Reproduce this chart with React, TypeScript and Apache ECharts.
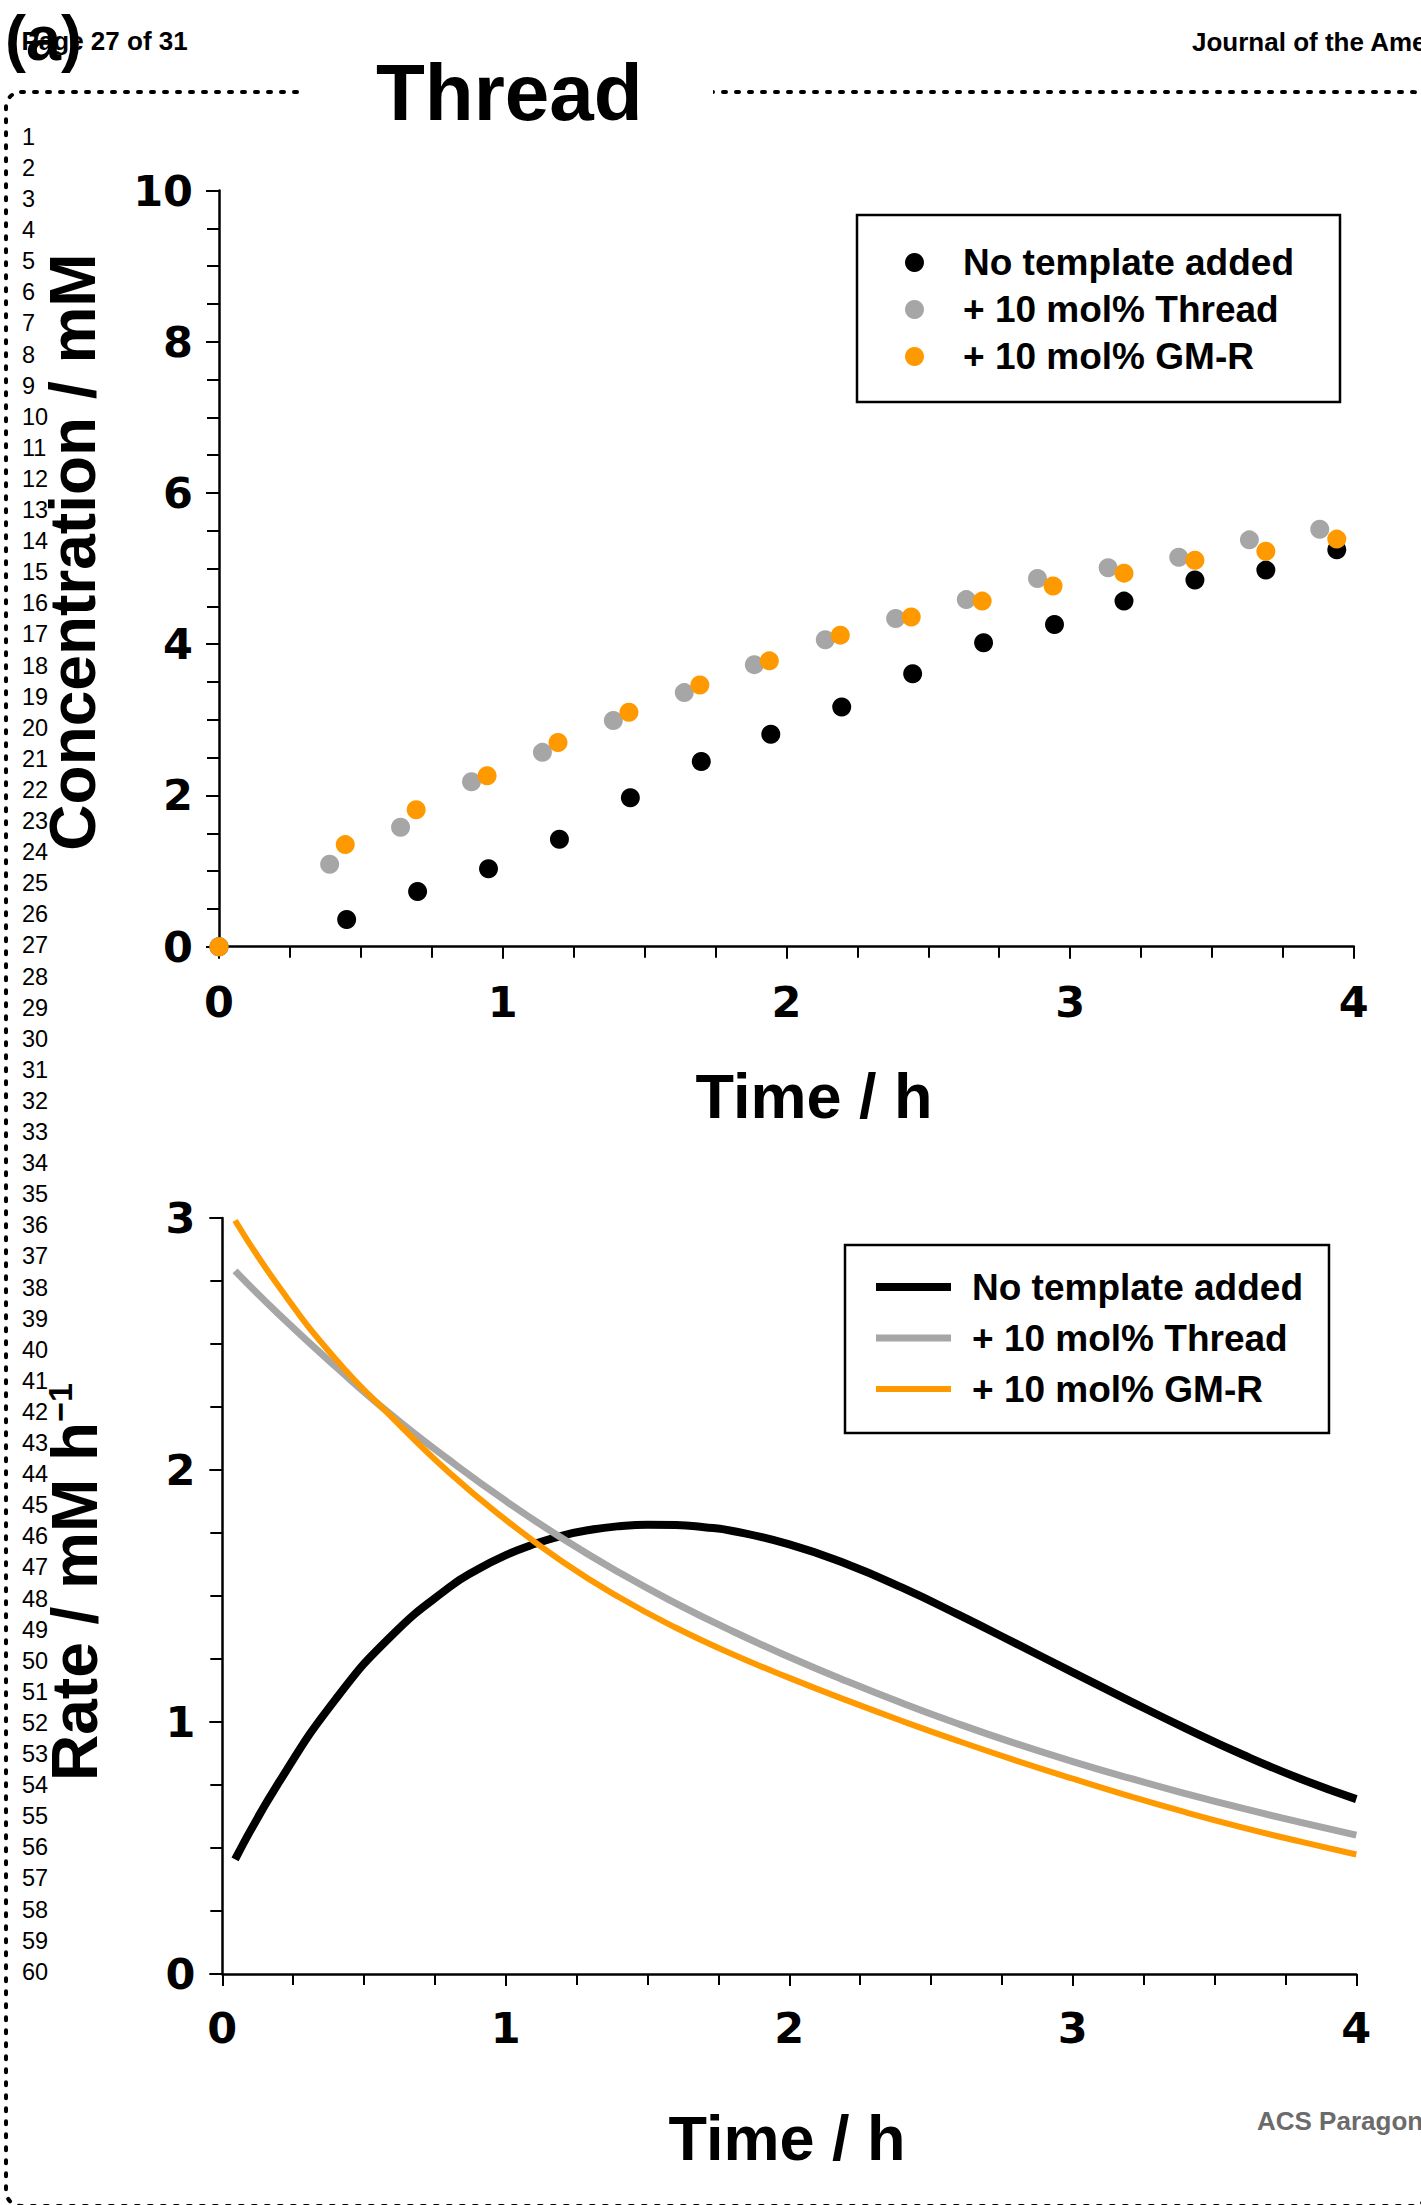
import React, { useEffect, useRef } from 'react';
import * as echarts from 'echarts';

const FONT = '"Liberation Sans", Arial, Helvetica, sans-serif';
const TICK_FONT = '"DejaVu Sans", "Liberation Sans", Arial, sans-serif';

// ---------- legend / series identities ----------
const seriesNames = ['No template added', '+ 10 mol% Thread', '+ 10 mol% GM-R'];
const seriesColors = ['#000000', '#a6a6a6', '#ff9900'];
const lineWidths = [8, 7, 6];

// ---------- top panel: concentration (mM) vs time (h) ----------
const timeNoTemplate = [0, 0.45, 0.7, 0.95, 1.2, 1.45, 1.7, 1.945, 2.195, 2.445, 2.695, 2.945, 3.19, 3.44, 3.69, 3.94];
const concNoTemplate = [0, 0.36, 0.73, 1.03, 1.42, 1.97, 2.45, 2.81, 3.17, 3.61, 4.02, 4.26, 4.57, 4.85, 4.98, 5.25];
const timeThread = [0, 0.39, 0.64, 0.89, 1.14, 1.39, 1.64, 1.887, 2.137, 2.385, 2.634, 2.885, 3.134, 3.383, 3.632, 3.88];
const concThread = [0, 1.09, 1.58, 2.18, 2.57, 2.99, 3.36, 3.73, 4.06, 4.34, 4.59, 4.87, 5.01, 5.15, 5.38, 5.52];
const timeGMR = [0, 0.445, 0.695, 0.945, 1.195, 1.445, 1.695, 1.94, 2.19, 2.44, 2.69, 2.94, 3.19, 3.44, 3.69, 3.94];
const concGMR = [0, 1.35, 1.81, 2.26, 2.7, 3.1, 3.46, 3.78, 4.12, 4.36, 4.57, 4.77, 4.94, 5.11, 5.23, 5.39];

// ---------- bottom panel: rate (mM h-1) vs time (h) ----------
const rateTimeNoTemplate = [0.045, 0.2, 0.4, 0.6, 0.8, 0.9, 1.0, 1.1, 1.2, 1.3, 1.4, 1.5, 1.6, 1.7, 1.8, 2.0, 2.2, 2.4, 2.6, 2.8, 3.0, 3.2, 3.4, 3.6, 3.8, 4.0];
const rateNoTemplate = [0.455, 0.761, 1.091, 1.346, 1.534, 1.605, 1.662, 1.706, 1.74, 1.763, 1.777, 1.783, 1.782, 1.773, 1.758, 1.705, 1.628, 1.532, 1.424, 1.311, 1.197, 1.084, 0.974, 0.87, 0.776, 0.694];
const rateTime = [0.045, 0.2, 0.4, 0.6, 0.8, 1.0, 1.2, 1.4, 1.6, 1.8, 2.0, 2.2, 2.4, 2.6, 2.8, 3.0, 3.2, 3.4, 3.6, 3.8, 4.0];
const rateThread = [2.79, 2.617, 2.41, 2.215, 2.04, 1.877, 1.728, 1.593, 1.471, 1.36, 1.258, 1.163, 1.074, 0.991, 0.914, 0.843, 0.777, 0.715, 0.657, 0.603, 0.551];
const rateGMR = [2.99, 2.727, 2.44, 2.207, 1.99, 1.802, 1.636, 1.495, 1.374, 1.269, 1.175, 1.087, 1.003, 0.923, 0.847, 0.775, 0.706, 0.641, 0.581, 0.526, 0.474];

// ---------- tick labels ----------
const concTicks = [0, 2, 4, 6, 8, 10];
const timeTicks = [0, 1, 2, 3, 4];
const rateTicks = [0, 1, 2, 3];

const RATE_PREFIX = 'rate|';

function zip(xs: number[], ys: number[]) {
  return xs.map((x, i) => [x, ys[i]]);
}

function valueAxis(ticks: number[], gridIndex: number, margin: number, tickLen: number, isX: boolean) {
  return {
    type: 'value',
    gridIndex,
    min: ticks[0],
    max: ticks[ticks.length - 1],
    interval: ticks[1] - ticks[0],
    axisLine: { show: true, onZero: false, lineStyle: { color: '#000', width: 2.5 } },
    axisTick: { show: true, length: tickLen, lineStyle: { color: '#000', width: 2 } },
    minorTick: { show: true, splitNumber: 4, length: tickLen - 1, lineStyle: { color: '#000', width: 2 } },
    axisLabel: {
      margin,
      color: '#000',
      fontSize: 43,
      fontWeight: 'bold',
      fontFamily: TICK_FONT,
      lineHeight: isX ? 44 : undefined,
    },
    splitLine: { show: false },
    minorSplitLine: { show: false },
  };
}

function txt(text: string, x: number, y: number, fontSize: number, opt: any = {}) {
  return {
    type: 'text',
    x,
    y,
    z: 30,
    silent: true,
    rotation: opt.rotation || 0,
    style: {
      text,
      fill: opt.fill || '#000',
      fontSize,
      fontWeight: opt.weight || 'bold',
      fontFamily: FONT,
      align: opt.align || 'left',
      verticalAlign: 'middle',
    },
  };
}

function buildOption() {
  const lineNumbers: any[] = [];
  for (let n = 1; n <= 60; n++) {
    const baseline = 145 + (n - 1) * 31.1;
    lineNumbers.push(txt(String(n), 22, baseline - 8.2, 23.5, { weight: 'normal' }));
  }

  const graphicEls: any[] = [
    {
      type: 'rect',
      z: 1,
      silent: true,
      shape: { x: 6, y: 92, width: 1422, height: 2114, r: 15 },
      style: { fill: 'none', stroke: '#000', lineWidth: 4, lineDash: [3, 10], lineCap: 'round' },
    },
    {
      type: 'rect',
      z: 2,
      silent: true,
      shape: { x: 300, y: 83, width: 413, height: 18 },
      style: { fill: '#fff' },
    },
    txt('Page 27 of 31', 21.5, 41, 26),
    txt('(a)', 5, 37.5, 63),
    txt('Journal of the American Chemical Society', 1192, 41.7, 26),
    txt('Thread', 376, 92.3, 80),
    txt('Concentration / mM', 73, 552, 64, { rotation: Math.PI / 2, align: 'center' }),
    txt('Time / h', 814, 1096.2, 63, { align: 'center' }),
    {
      type: 'text',
      x: 75,
      y: 1582,
      z: 30,
      silent: true,
      rotation: Math.PI / 2,
      style: {
        text: '{a|Rate / mM h}{b|\u22121}',
        align: 'center',
        verticalAlign: 'middle',
        fill: '#000',
        rich: {
          a: { fontSize: 64, fontWeight: 'bold', fontFamily: FONT, lineHeight: 64, fill: '#000' },
          b: { fontSize: 34, fontWeight: 'bold', fontFamily: FONT, lineHeight: 34, verticalAlign: 'top', fill: '#000' },
        },
      },
    },
    txt('Time / h', 787, 2138.2, 63, { align: 'center' }),
    txt('ACS Paragon Plus Environment', 1257, 2121, 26, { fill: '#6b6b6b' }),
    ...lineNumbers,
  ];

  const concTimes = [timeNoTemplate, timeThread, timeGMR];
  const concVals = [concNoTemplate, concThread, concGMR];
  const rateTimes = [rateTimeNoTemplate, rateTime, rateTime];
  const rateVals = [rateNoTemplate, rateThread, rateGMR];

  const scatterSeries = seriesNames.map((name, i) => ({
    type: 'scatter',
    name,
    xAxisIndex: 0,
    yAxisIndex: 0,
    symbol: 'circle',
    symbolSize: 19,
    clip: false,
    z: 3 + i,
    itemStyle: { color: seriesColors[i], opacity: 1 },
    data: zip(concTimes[i], concVals[i]),
  }));

  const lineSeries = seriesNames.map((name, i) => ({
    type: 'line',
    name: RATE_PREFIX + name,
    xAxisIndex: 1,
    yAxisIndex: 1,
    symbol: 'none',
    showSymbol: false,
    smooth: true,
    clip: false,
    z: 3 + i,
    itemStyle: { color: seriesColors[i] },
    lineStyle: { color: seriesColors[i], width: lineWidths[i] },
    data: zip(rateTimes[i], rateVals[i]),
  }));

  const legendText = {
    fontSize: 37,
    fontWeight: 'bold',
    fontFamily: FONT,
    color: '#000',
    lineHeight: 40,
  };

  return {
    animation: false,
    backgroundColor: '#ffffff',
    textStyle: { fontFamily: FONT },
    grid: [
      { left: 219, top: 190.5, width: 1134.8, height: 756.2, containLabel: false },
      { left: 222.3, top: 1218, width: 1134, height: 756, containLabel: false },
    ],
    xAxis: [valueAxis(timeTicks, 0, 33, 12, true), valueAxis(timeTicks, 1, 32, 12, true)],
    yAxis: [valueAxis(concTicks, 0, 26, 13, false), valueAxis(rateTicks, 1, 27, 13, false)],
    legend: [
      {
        orient: 'vertical',
        left: 857,
        top: 215,
        padding: [27.5, 46, 25.5, 48],
        itemWidth: 19,
        itemHeight: 19,
        itemGap: 7,
        borderColor: '#000',
        borderWidth: 2.5,
        backgroundColor: '#fff',
        selectedMode: false,
        data: seriesNames,
        textStyle: { ...legendText, padding: [0, 0, 0, 34] },
      },
      {
        orient: 'vertical',
        left: 845,
        top: 1245,
        padding: [22, 26, 24, 27],
        itemWidth: 75,
        itemHeight: 14,
        itemGap: 11,
        borderColor: '#000',
        borderWidth: 2.5,
        backgroundColor: '#fff',
        selectedMode: false,
        itemStyle: { opacity: 0 },
        data: seriesNames.map((name, i) => ({
          name: RATE_PREFIX + name,
          lineStyle: { width: lineWidths[i] },
        })),
        formatter: (name: string) => name.slice(RATE_PREFIX.length),
        textStyle: { ...legendText, padding: [0, 0, 0, 16] },
      },
    ],
    graphic: { elements: graphicEls },
    series: [...scatterSeries, ...lineSeries],
  };
}

export default function App() {
  const ref = useRef<HTMLDivElement>(null);
  useEffect(() => {
    if (!ref.current) return;
    const chart = echarts.init(ref.current, null, { renderer: 'svg' });
    chart.setOption(buildOption() as any);
    return () => {
      chart.dispose();
    };
  }, []);
  return (
    <div
      ref={ref}
      style={{ position: 'absolute', left: 0, top: 0, width: 1421, height: 2205, background: '#fff' }}
    />
  );
}
